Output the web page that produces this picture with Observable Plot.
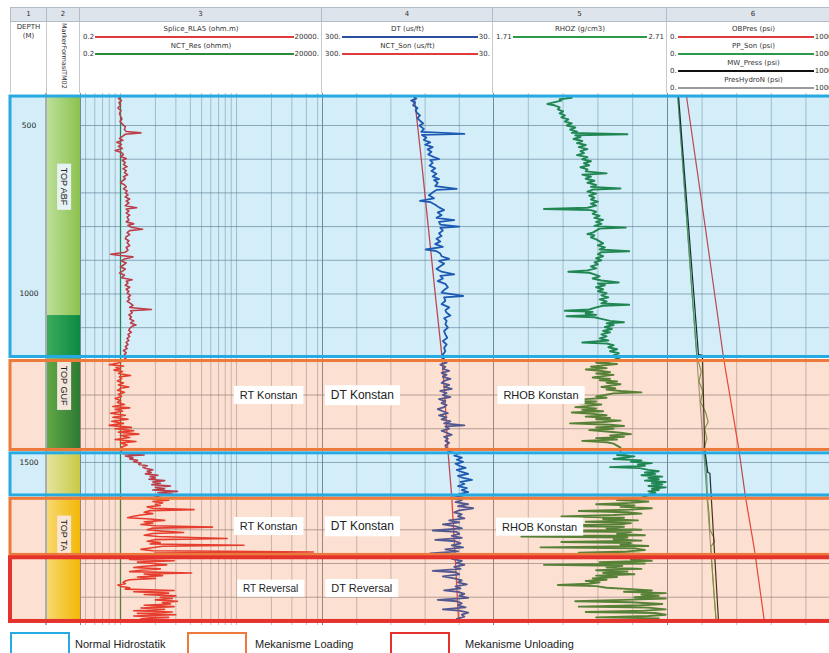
<!DOCTYPE html>
<html><head><meta charset="utf-8">
<script src="https://cdn.jsdelivr.net/npm/d3@7"></script>
<script src="https://cdn.jsdelivr.net/npm/@observablehq/plot@0.6"></script>
<style>
html,body{margin:0;padding:0;background:#fff;}
#root{position:relative;width:829px;height:653px;overflow:hidden;font-family:"DejaVu Sans",sans-serif;background:#fff;}
#root div{box-sizing:border-box;}
</style></head><body><div id="root"></div>
<script>
// ---------- layout constants ----------
const TOP_Y = 93, H = 532;
const DEPTH_TOP = 405, DEPTH_BOTTOM = 1984;

// ---------- tracks ----------
const trackNum = ["1","2","3","4","5","6"];
const trackX = [10, 47, 80, 322, 493, 667];
const trackW = [37, 33, 242, 171, 174, 173];

// ---------- header curves ----------
const hdrTrack = [2,2,3,3,4,5,5,5,5];
const hdrName = ["Splice_RLA5 (ohm.m)","NCT_Res (ohmm)","DT (us/ft)","NCT_Son (us/ft)","RHOZ (g/cm3)","OBPres (psi)","PP_Son (psi)","MW_Press (psi)","PresHydroN (psi)"];
const hdrLeft = ["0.2","0.2","300.","300.","1.71","0.","0.","0.","0."];
const hdrRight = ["20000.","20000.","30.","30.","2.71","10000","10000","10000","10000"];
const hdrColor = ["#e03a3a","#2a8a3a","#2b4f9e","#e03a3a","#2a9a4a","#e03a3a","#2a9a4a","#111111","#9a9a9a"];
const hdrRow = [0,1,0,1,0,0,1,2,3];

// ---------- depth ----------
const depthLabels = [500, 1000, 1500];
const depthGrid = d3.range(500, 2000, 100);

// ---------- zones ----------
const zoneTop = [414, 1199, 1473, 1608, 1783];
const zoneBottom = [1187, 1463, 1598, 1774.5, 1972];
const zoneKind = ["normal","loading","normal","loading","unloading"];
const kindName = {normal:"Normal Hidrostatik", loading:"Mekanisme Loading", unloading:"Mekanisme Unloading"};
const kindBorder = {normal:"#27aae1", loading:"#ec7b3b", unloading:"#e5322d"};
const kindBorderW = {normal:3, loading:3, unloading:4};

// ---------- formations (track 2) ----------
const formTop = [414, 1064, 1193, 1468, 1603];
const formBottom = [1064, 1193, 1468, 1603, 1972];
const formColorL = ["#bcdf98","#3cab5c","#62a846","#e4e49e","#f8d86e"];
const formColorR = ["#8cc24f","#0c8a42","#2d7a33","#c8ca45","#f2b806"];
const formLabel = ["TOP ABF","TOP GUF","TOP TA"];
const formLabelDepth = [681, 1272, 1716];
const formLabelBox = ["#e6f2f4","#f5e6dc","#fbe6d6"];

// ---------- annotations ----------
const annoLabel = ["RT Konstan","DT Konstan","RHOB Konstan","RT Konstan","DT Konstan","RHOB Konstan","RT Reversal","DT Reversal"];
const annoTrack = [3,4,5,3,4,5,3,4];
const annoDepth = [1301,1301,1301,1690,1690,1692,1874,1874];
const annoValue = [18.9,237,1.983,18.9,237,1.975,19.7,238];
const annoSize = [11,12,11,11,12,11,10,11];

// ---------- track 3 : resistivity ----------
const rtGrid = [0.5,0.6,0.7,0.8,0.9,1,2,3,4,5,6,7,8,9,10,20,30,40,50];
const nctRes = [[414,1],[1972,1]];
const rt = [
[414,1.0],[420,0.96],[426,1.02],[432,0.97],[440,1.0],[448,0.95],[456,1.01],[464,0.98],[472,1.0],[480,1.03],[488,0.99],[496,1.04],[504,1.1],[512,1.08],[518,1.12],[522,1.5],[526,1.1],[532,1.04],[538,0.98],[544,1.05],[550,0.93],[556,1.02],[562,0.96],[568,1.04],[574,0.9],[580,1.02],[586,1.06],[592,1.0],[598,1.12],[604,1.04],[610,1.1],[616,1.06],[622,1.14],[628,1.05],[634,1.12],[640,1.08],[646,1.15],[652,1.06],[658,1.1],[664,1.04],[670,1.0],[676,1.08],[682,1.12],[688,1.06],[694,1.14],[700,1.1],[706,1.16],[712,1.1],[718,1.2],[724,1.12],[730,1.18],[738,1.1],[744,1.38],[748,1.12],[754,1.18],[760,1.12],[766,1.2],[772,1.14],[780,1.18],[786,1.12],[792,1.3],[796,1.16],[802,1.24],[808,1.55],[812,1.2],[818,1.14],[824,1.2],[830,1.12],[836,1.1],[842,1.18],[848,1.14],[856,1.2],[862,1.12],[870,1.16],[876,1.1],[882,0.82],[886,1.0],[890,1.28],[896,1.08],[902,1.02],[908,1.12],[914,1.06],[920,1.0],[926,1.1],[932,1.04],[938,0.98],[944,1.08],[952,1.02],[958,1.26],[962,1.12],[968,1.16],[974,1.1],[980,1.2],[986,1.12],[992,1.18],[998,1.14],[1004,1.22],[1010,1.16],[1016,1.2],[1022,1.14],[1028,1.22],[1034,1.28],[1040,1.2],[1046,1.85],[1050,1.22],[1056,1.26],[1062,1.18],[1068,1.24],[1074,1.2],[1080,1.3],[1086,1.22],[1092,1.36],[1096,1.26],[1102,1.2],[1108,1.18],[1114,1.24],[1120,1.16],[1126,1.2],[1132,1.14],[1138,1.18],[1144,1.12],[1150,1.16],[1156,1.1],[1162,1.14],[1168,1.06],[1174,1.12],[1180,1.08],[1186,1.14],[1192,1.1],
[1202,1.0],[1206,0.94],[1210,0.8],[1214,1.06],[1218,0.92],[1222,1.0],[1226,0.88],[1230,1.04],[1236,0.96],[1242,1.22],[1246,0.98],[1252,1.02],[1258,0.94],[1264,1.06],[1270,0.96],[1276,1.18],[1280,1.0],[1286,0.94],[1292,1.08],[1298,0.96],[1304,1.02],[1310,0.9],[1316,1.0],[1322,0.94],[1328,1.08],[1334,0.86],[1338,1.2],[1342,0.9],[1348,1.04],[1354,0.82],[1360,1.1],[1366,0.86],[1372,1.16],[1378,0.84],[1384,1.06],[1390,0.8],[1396,1.24],[1400,0.9],[1406,1.3],[1410,0.96],[1416,1.44],[1420,1.0],[1426,1.2],[1432,0.9],[1438,1.36],[1442,1.0],[1448,1.14],[1454,1.02],[1460,1.06],
[1470,1.0],[1474,1.06],[1478,1.6],[1481,1.1],[1486,1.28],[1490,1.2],[1494,1.4],[1498,1.3],[1502,1.5],[1506,1.44],[1510,1.7],[1514,1.56],[1518,1.66],[1522,1.9],[1526,1.7],[1530,1.84],[1534,1.64],[1538,2.1],[1542,1.8],[1546,2.0],[1550,1.76],[1554,2.4],[1558,1.9],[1562,2.2],[1566,1.86],[1570,2.7],[1574,2.0],[1578,2.4],[1582,1.9],[1586,3.1],[1590,2.1],[1594,2.8],[1598,2.2],
[1608,1.8],[1612,2.6],[1616,1.9],[1620,2.3],[1624,2.0],[1628,2.2],[1632,1.7],[1636,1.9],[1640,4.3],[1643,1.8],[1648,1.6],[1652,1.9],[1656,1.5],[1660,1.3],[1664,1.15],[1668,1.8],[1672,2.4],[1676,1.6],[1680,1.9],[1684,1.5],[1688,2.0],[1692,6.2],[1695,1.9],[1700,1.7],[1704,2.3],[1708,3.5],[1711,1.9],[1716,1.6],[1720,2.1],[1726,8.3],[1729,2.0],[1734,1.7],[1738,2.2],[1742,1.8],[1746,11.6],[1749,2.3],[1754,1.8],[1758,1.5],[1762,1.9],[1766,46],[1769,2.0],[1774,1.8],
[1788,1.2],[1792,2.9],[1796,1.4],[1800,1.9],[1804,2.5],[1808,1.6],[1812,1.3],[1816,2.2],[1820,1.5],[1824,1.2],[1828,4.1],[1831,1.6],[1836,2.3],[1840,1.4],[1844,2.0],[1848,1.2],[1852,1.1],[1856,1.05],[1860,1.1],[1864,0.95],[1868,1.02],[1872,1.2],[1876,1.1],[1880,2.9],[1884,1.3],[1888,2.6],[1892,1.6],[1896,3.0],[1900,2.2],[1904,2.8],[1908,2.0],[1912,3.1],[1916,2.3],[1920,2.7],[1924,1.6],[1928,2.9],[1932,1.5],[1936,2.4],[1940,1.3],[1944,2.8],[1948,1.4],[1952,3.0],[1956,1.3],[1960,2.6],[1964,1.5],[1968,2.4],[1972,1.7]
];

// ---------- track 4 : sonic ----------
const dtGrid = [246,192,138,84];
const nctSon = [[414,155],[600,144],[800,133],[1000,122],[1175,112],[1300,107],[1464,102],[1600,96],[1800,90],[1972,85]];
const dt = [
[414,156],[420,152],[426,160],[432,154],[440,157],[448,150],[455,153],[462,151],[470,146],[478,150],[486,146],[494,141],[500,147],[510,140],[519,144],[525,76],[528,143],[536,136],[543,140],[550,130],[557,138],[564,126],[571,134],[578,128],[586,133],[594,124],[600,116],[603,130],[611,126],[619,131],[627,122],[635,128],[643,120],[651,126],[659,116],[662,124],[670,118],[680,122],[688,88],[691,120],[699,126],[707,132],[716,124],[724,146],[727,130],[735,122],[743,116],[751,108],[758,118],[766,112],[774,120],[781,92],[786,116],[794,114],[800,84],[804,114],[812,110],[820,116],[828,112],[836,120],[844,114],[852,122],[860,110],[868,137],[873,120],[880,114],[888,112],[896,100],[902,116],[910,108],[918,114],[926,120],[934,112],[942,92],[946,114],[954,110],[962,118],[970,106],[980,102],[988,108],[996,112],[1006,78],[1010,108],[1020,106],[1030,112],[1040,100],[1048,106],[1056,104],[1064,98],[1072,108],[1080,104],[1090,106],[1100,102],[1110,108],[1120,106],[1130,103],[1140,110],[1150,104],[1160,108],[1170,106],[1180,110],[1190,108],
[1198,112],[1204,104],[1210,114],[1216,106],[1222,110],[1228,100],[1234,112],[1240,104],[1246,110],[1252,98],[1258,108],[1264,112],[1270,100],[1276,108],[1282,96],[1288,114],[1294,104],[1300,110],[1306,98],[1312,116],[1318,106],[1324,112],[1330,104],[1336,108],[1342,118],[1348,110],[1354,102],[1360,116],[1366,104],[1372,112],[1378,98],[1384,108],[1390,76],[1393,106],[1400,100],[1406,112],[1412,104],[1418,96],[1424,108],[1430,102],[1436,106],[1442,100],[1450,106],[1458,104],
[1468,100],[1474,86],[1480,92],[1486,80],[1492,88],[1498,78],[1504,90],[1510,84],[1516,74],[1522,88],[1528,80],[1534,70],[1540,86],[1546,78],[1552,64],[1558,82],[1564,76],[1570,86],[1576,72],[1582,80],[1588,70],[1594,84],[1598,78],
[1606,96],[1612,80],[1618,90],[1624,70],[1630,86],[1636,62],[1642,84],[1648,92],[1654,80],[1660,86],[1666,76],[1672,100],[1678,84],[1684,110],[1690,90],[1696,80],[1702,126],[1706,88],[1712,84],[1718,96],[1724,80],[1730,122],[1734,90],[1740,82],[1746,96],[1752,78],[1758,106],[1764,86],[1770,130],[1774,92],[1778,84],
[1786,96],[1792,80],[1798,88],[1804,76],[1810,92],[1816,82],[1822,126],[1826,90],[1832,84],[1838,110],[1844,92],[1850,80],[1856,86],[1862,72],[1868,90],[1874,82],[1880,108],[1884,86],[1890,76],[1896,84],[1902,70],[1908,118],[1912,88],[1918,80],[1924,86],[1930,74],[1936,110],[1940,84],[1946,70],[1952,80],[1958,76],[1964,88],[1970,78]
];

// ---------- track 5 : density ----------
const rhoGrid = [1.91,2.11,2.31,2.51];
const rhoz = [
[414,2.13],[418,2.16],[422,2.09],[426,2.1],[432,2.05],[436,2.02],[440,2.06],[446,2.09],[452,2.08],[458,2.11],[464,2.09],[470,2.12],[476,2.1],[482,2.14],[488,2.12],[494,2.16],[500,2.13],[506,2.18],[512,2.15],[518,2.19],[522,2.16],[526,2.48],[529,2.18],[534,2.21],[540,2.17],[546,2.22],[552,2.19],[558,2.24],[564,2.2],[570,2.25],[576,2.21],[582,2.23],[588,2.19],[594,2.25],[600,2.22],[606,2.27],[612,2.23],[618,2.26],[624,2.21],[630,2.25],[636,2.24],[642,2.36],[646,2.22],[652,2.27],[658,2.24],[664,2.29],[670,2.25],[676,2.3],[682,2.27],[687,2.44],[690,2.28],[696,2.25],[702,2.3],[708,2.26],[714,2.29],[720,2.27],[726,2.31],[732,2.27],[738,2.3],[744,2.25],[748,2.0],[751,2.27],[756,2.3],[762,2.28],[768,2.32],[774,2.29],[780,2.34],[786,2.3],[792,2.33],[798,2.29],[803,2.47],[806,2.32],[812,2.3],[818,2.28],[822,2.25],[826,2.29],[832,2.27],[838,2.3],[844,2.32],[850,2.34],[856,2.31],[862,2.35],[868,2.32],[873,2.49],[876,2.33],[882,2.31],[888,2.34],[894,2.3],[900,2.33],[906,2.29],[912,2.31],[918,2.27],[924,2.3],[930,2.25],[934,2.14],[937,2.26],[942,2.29],[948,2.32],[954,2.28],[960,2.33],[966,2.43],[969,2.31],[974,2.35],[980,2.3],[986,2.34],[992,2.31],[998,2.36],[1004,2.33],[1010,2.37],[1016,2.32],[1022,2.36],[1028,2.33],[1032,2.49],[1035,2.34],[1040,2.3],[1046,2.26],[1050,2.12],[1053,2.28],[1058,2.24],[1062,2.3],[1066,2.13],[1069,2.29],[1074,2.33],[1080,2.38],[1084,2.46],[1087,2.36],[1092,2.4],[1098,2.35],[1104,2.39],[1110,2.34],[1114,2.38],[1120,2.33],[1126,2.36],[1132,2.32],[1138,2.37],[1144,2.22],[1147,2.36],[1152,2.4],[1158,2.37],[1164,2.42],[1170,2.38],[1176,2.43],[1182,2.4],[1188,2.44],[1192,2.42],
[1200,2.38],[1204,2.3],[1208,2.42],[1212,2.34],[1216,2.27],[1220,2.36],[1224,2.24],[1228,2.32],[1232,2.38],[1236,2.3],[1240,2.4],[1244,2.34],[1248,2.28],[1252,2.38],[1256,2.32],[1260,2.42],[1264,2.36],[1268,2.44],[1272,2.38],[1276,2.33],[1280,2.41],[1284,2.36],[1288,2.44],[1292,2.56],[1295,2.4],[1300,2.35],[1304,2.3],[1308,2.36],[1312,2.24],[1316,2.12],[1319,2.3],[1324,2.2],[1328,2.33],[1332,2.26],[1336,2.18],[1340,2.3],[1344,2.22],[1348,2.34],[1352,2.16],[1356,2.28],[1360,2.36],[1364,2.24],[1368,2.38],[1372,2.3],[1376,2.44],[1380,2.34],[1384,2.15],[1388,2.38],[1392,2.46],[1396,2.3],[1400,2.4],[1404,2.26],[1408,2.36],[1412,2.44],[1416,2.5],[1420,2.38],[1424,2.46],[1428,2.3],[1432,2.42],[1436,2.22],[1440,2.36],[1444,2.4],[1450,2.42],[1456,2.44],
[1470,2.44],[1474,2.48],[1478,2.42],[1482,2.52],[1486,2.46],[1490,2.4],[1494,2.56],[1498,2.5],[1502,2.62],[1506,2.54],[1510,2.58],[1514,2.38],[1517,2.55],[1522,2.6],[1526,2.66],[1530,2.58],[1534,2.64],[1538,2.56],[1542,2.68],[1546,2.6],[1550,2.66],[1554,2.58],[1558,2.7],[1562,2.62],[1566,2.68],[1570,2.6],[1574,2.7],[1578,2.62],[1582,2.66],[1586,2.6],[1590,2.64],[1596,2.6],
[1608,2.55],[1612,2.42],[1616,2.6],[1620,2.5],[1624,2.3],[1628,2.52],[1632,2.44],[1636,2.62],[1640,2.5],[1644,2.2],[1648,2.48],[1652,2.56],[1656,2.4],[1660,2.1],[1664,2.46],[1668,2.34],[1672,2.54],[1676,2.24],[1680,2.5],[1684,2.44],[1688,1.94],[1691,2.46],[1696,2.36],[1700,2.56],[1704,2.02],[1707,2.5],[1712,2.42],[1716,2.58],[1720,1.87],[1723,2.48],[1728,2.4],[1732,2.56],[1736,2.1],[1739,2.5],[1744,2.44],[1748,2.6],[1752,1.98],[1755,2.52],[1760,2.58],[1764,2.48],[1768,2.2],[1771,2.55],[1776,2.6],
[1788,2.5],[1792,2.62],[1796,2.32],[1800,2.58],[1804,2.0],[1807,2.45],[1812,2.36],[1816,2.56],[1820,2.3],[1824,2.48],[1828,2.34],[1832,2.52],[1836,2.3],[1840,2.42],[1844,2.28],[1848,2.36],[1852,2.24],[1856,2.32],[1860,2.26],[1864,2.08],[1867,2.3],[1872,2.36],[1876,2.5],[1880,2.62],[1884,2.46],[1888,2.7],[1892,2.56],[1896,2.66],[1900,2.52],[1904,2.7],[1908,2.46],[1912,2.18],[1915,2.5],[1920,2.68],[1924,2.56],[1928,2.2],[1931,2.6],[1936,2.7],[1940,2.58],[1944,2.24],[1947,2.64],[1952,2.7],[1956,2.6],[1960,2.3],[1963,2.66],[1968,2.56],[1972,2.62]
];

// ---------- track 6 : pressures (psi) ----------
const presGrid = [2000,4000,6000,8000];
const obPres = [[414,1100],[800,2180],[1190,3240],[1460,4120],[1600,4500],[1760,5030],[1972,5600]];
const presHydro = [[414,590],[1972,2810]];
const mwPres = [[414,640],[1180,1790],[1182,2020],[1460,2150],[1530,2330],[1532,2450],[1972,2950]];
const ppSon = [[414,600],[700,1000],[1000,1420],[1186,1700],[1200,1780],[1230,1950],[1260,1820],[1290,2050],[1320,1900],[1350,2200],[1380,2350],[1400,2150],[1430,2280],[1460,2100],[1480,2150],[1530,2260],[1600,2300],[1650,2400],[1700,2450],[1720,2650],[1735,2720],[1750,2500],[1800,2560],[1900,2700],[1972,2820]];

// =====================================================
const root = document.getElementById("root");
function div(style, text) {
  const d = document.createElement("div");
  Object.assign(d.style, {position:"absolute"}, style);
  if (text != null) d.textContent = text;
  root.appendChild(d);
  return d;
}
const px = v => v + "px";

// ---------- header ----------
trackNum.forEach((n, i) => {
  div({left:px(trackX[i]), top:"7px", width:px(trackW[i]), height:"15px", background:"#dde4ec",
       borderTop:"1px solid #b3bcc6", borderBottom:"1px solid #b3bcc6", borderRight:"1px solid #b3bcc6",
       borderLeft: i===0 ? "1px solid #b3bcc6" : "none",
       font:"7px 'DejaVu Sans'", color:"#333", textAlign:"center", lineHeight:"13px"}, n);
  div({left:px(trackX[i]), top:"22px", width:px(trackW[i]), height:px(TOP_Y-22),
       borderRight:"1px solid #c4cad0", borderLeft: i===0 ? "1px solid #c4cad0" : "none"});
});
div({left:px(trackX[0]), top:"23px", width:px(trackW[0]), textAlign:"center", font:"7px 'DejaVu Sans'", color:"#333", lineHeight:"9px"}, "DEPTH");
div({left:px(trackX[0]), top:"32px", width:px(trackW[0]), textAlign:"center", font:"7px 'DejaVu Sans'", color:"#333", lineHeight:"9px"}, "(M)");
div({left:px(trackX[1] + 11), top:"23px", width:"11px", height:"70px", writingMode:"vertical-rl", font:"6.5px 'DejaVu Sans'", color:"#333", lineHeight:"11px", whiteSpace:"nowrap"}, "MarkerFormasiTM02");

hdrName.forEach((name, k) => {
  const t = hdrTrack[k], r = hdrRow[k];
  const nameY = 29 + 17 * r, lineY = 37 + 17 * r;
  div({left:px(trackX[t]), top:px(nameY - 5), width:px(trackW[t]), height:"10px", textAlign:"center",
       font:"7px 'DejaVu Sans'", color:"#333", lineHeight:"10px", whiteSpace:"nowrap"}, name);
  const row = div({left:px(trackX[t] + 3), top:px(lineY - 5), width:px(trackW[t] - 6), height:"10px",
       display:"flex", alignItems:"center", font:"7px 'DejaVu Sans'", color:"#333", whiteSpace:"nowrap"});
  const a = document.createElement("span"); a.textContent = hdrLeft[k]; a.style.paddingRight = "1px";
  const ln = document.createElement("span"); Object.assign(ln.style, {flex:"1", height:"0", borderTop:"2px solid " + hdrColor[k]});
  const b = document.createElement("span"); b.textContent = hdrRight[k]; b.style.paddingLeft = "1px";
  row.append(a, ln, b);
});

// ---------- plots ----------
const ySpec = {domain:[DEPTH_TOP, DEPTH_BOTTOM], reverse:true, axis:null};
const zoneIdx = d3.range(zoneTop.length);
function zoneFills() {
  return [
    Plot.rect(zoneIdx.filter(i => zoneKind[i] === "normal"), {y1: i => zoneTop[i], y2: i => zoneBottom[i], fill:"#2aa8e0", fillOpacity:0.2}),
    Plot.rect(zoneIdx.filter(i => zoneKind[i] !== "normal"), {y1: i => zoneTop[i], y2: i => zoneBottom[i], fill:"#f5894f", fillOpacity:0.26})
  ];
}
function place(svg, left, top) {
  Object.assign(svg.style, {position:"absolute", left:px(left), top:px(top), maxWidth:"none", background:"transparent", overflow:"visible"});
  root.appendChild(svg);
  return svg;
}
function boxify(svg, padX, padY, fills) {
  const texts = Array.from(svg.querySelectorAll('g[aria-label="text"] text'));
  texts.forEach((t, k) => {
    const bb = t.getBBox();
    const r = document.createElementNS("http://www.w3.org/2000/svg", "rect");
    r.setAttribute("x", bb.x - padX); r.setAttribute("y", bb.y - padY);
    r.setAttribute("width", bb.width + 2 * padX); r.setAttribute("height", bb.height + 2 * padY);
    r.setAttribute("fill", fills ? fills[k] : "#ffffff");
    r.setAttribute("stroke", "none");
    const tr = t.getAttribute("transform"); if (tr) r.setAttribute("transform", tr);
    t.parentNode.insertBefore(r, t);
  });
}
const GRID = "#5f6d7a";
const annoIdx = d3.range(annoLabel.length);
function annoMark(track) {
  return Plot.text(annoIdx.filter(i => annoTrack[i] === track), {
    x: i => annoValue[i], y: i => annoDepth[i], text: i => annoLabel[i],
    fontSize: i => annoSize[i], fontFamily:"Liberation Sans, Arial, sans-serif", fill:"#222"
  });
}
function trackPlot(i, xSpec, grid, curves, track) {
  const svg = Plot.plot({
    width: trackW[i], height: H, margin: 0,
    x: {...xSpec, axis: null}, y: ySpec,
    style: {background:"#fff"},
    marks: [
      Plot.ruleY(depthGrid, {stroke: GRID, strokeOpacity: 0.6}),
      Plot.ruleX(grid, {stroke: GRID, strokeOpacity: 0.42}),
      Plot.ruleX([xSpec.domain[0]], {stroke: "#7a858f"}),
      ...curves,
      ...zoneFills(),
      ...(track ? [annoMark(track)] : [])
    ]
  });
  place(svg, trackX[i], TOP_Y);
  svg.style.background = "#fff";
  if (track && track !== 6) boxify(svg, 6, 3);
  return svg;
}
const line = (data, stroke, w) => Plot.line(data, {x: d => d[1], y: d => d[0], stroke, strokeWidth: w, strokeLinejoin: "round"});

// track 1 : depth
const t1 = Plot.plot({
  width: trackW[0], height: H, margin: 0, y: ySpec,
  marks: [
    ...zoneFills(),
    Plot.text(depthLabels, {y: d => d, text: d => String(d), fontSize: 7.5, fontFamily: "DejaVu Sans", fill: "#222"})
  ]
});
place(t1, trackX[0], TOP_Y); t1.style.background = "#fff";
div({left:"45px", top:px(TOP_Y), width:"2px", height:px(H), background:"#a6aeb6"});

// track 2 : formations
const formIdx = d3.range(formTop.length);
const lblIdx = d3.range(formLabel.length);
const t2 = Plot.plot({
  width: trackW[1], height: H, margin: 0, y: ySpec,
  marks: [
    Plot.rect(formIdx, {y1: i => formTop[i], y2: i => formBottom[i], fill: "#9c6"}),
    Plot.text(lblIdx, {y: i => formLabelDepth[i], text: i => formLabel[i], rotate: 90, fontSize: 9, fontFamily: "Liberation Sans, Arial, sans-serif", fill: "#222"})
  ]
});
place(t2, trackX[1], TOP_Y); t2.style.background = "#fff";
{
  let defs = "<defs>";
  formIdx.forEach(i => {
    defs += `<linearGradient id="fg${i}" x1="0" x2="1" y1="0" y2="0"><stop offset="0" stop-color="${formColorL[i]}"/><stop offset="1" stop-color="${formColorR[i]}"/></linearGradient>`;
  });
  defs += "</defs>";
  t2.insertAdjacentHTML("afterbegin", defs);
  t2.querySelectorAll('g[aria-label="rect"] rect').forEach((r, k) => r.setAttribute("fill", `url(#fg${k})`));
  boxify(t2, 4, 2, formLabelBox);
}

// track 3 : resistivity (log)
trackPlot(2, {type: "log", domain: [0.452, 55.1]}, rtGrid, [
  line(nctRes, "#1f7d3a", 1.3),
  line(rt, "#e02424", 1.6)
], 3);

// track 4 : sonic
trackPlot(3, {type: "linear", domain: [300, 30]}, dtGrid, [
  line(nctSon, "#e03030", 1.3),
  line(dt, "#1b47a8", 1.8)
], 4);

// track 5 : density
trackPlot(4, {type: "linear", domain: [1.71, 2.71]}, rhoGrid, [
  line(rhoz, "#1f7f30", 1.9)
], 5);

// track 6 : pressures
trackPlot(5, {type: "linear", domain: [0, 10000]}, presGrid, [
  line(presHydro, "#8d8d8d", 1.1),
  line(ppSon, "#4f9a2a", 1.1),
  line(mwPres, "#111111", 1.2),
  line(obPres, "#e03030", 1.2)
], null);

// zone borders overlay
const borders = Plot.plot({
  width: 845, height: H, marginLeft: 10, marginRight: 0, marginTop: 0, marginBottom: 0, y: ySpec,
  marks: ["normal","loading","unloading"].map(k =>
    Plot.rect(zoneIdx.filter(i => zoneKind[i] === k), {y1: i => zoneTop[i], y2: i => zoneBottom[i], fill: "none", stroke: kindBorder[k], strokeWidth: kindBorderW[k]})
  )
});
place(borders, 0, TOP_Y);
borders.style.pointerEvents = "none";

// ---------- legend ----------
const legendKinds = ["normal","loading","unloading"];
const legendBoxX = [10, 187, 390];
const legendTextX = [75, 255, 465];
legendKinds.forEach((k, i) => {
  div({left:px(legendBoxX[i]), top:"632px", width:"60px", height:"30px", border:"2.5px solid " + kindBorder[k], background:"#fff"});
  div({left:px(legendTextX[i]), top:"638px", font:"11px 'Liberation Sans', Arial, sans-serif", color:"#222", whiteSpace:"nowrap", lineHeight:"13px"}, kindName[k]);
});
</script></body></html>
